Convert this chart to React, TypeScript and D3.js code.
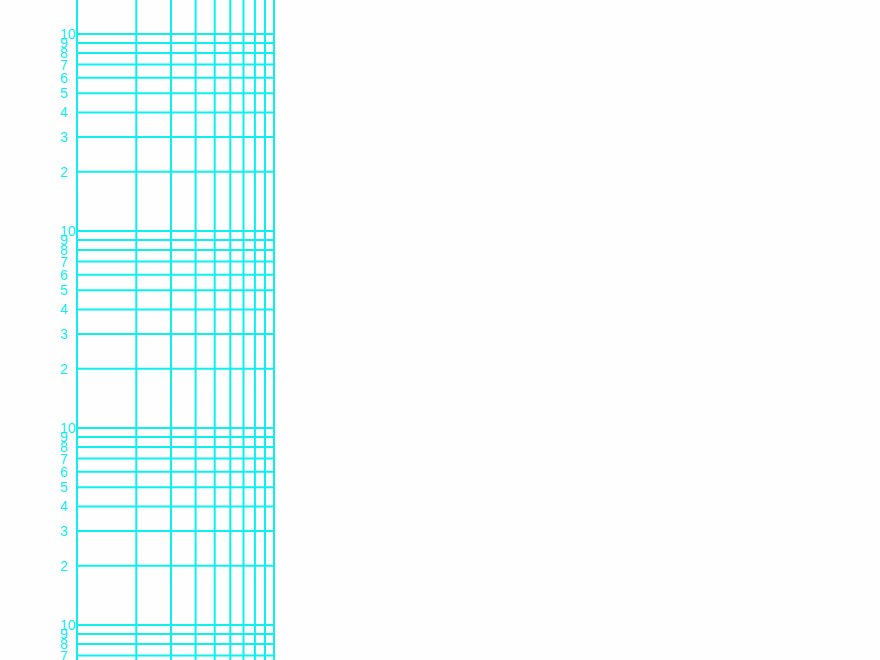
import React from "react";
import * as d3 from "d3";

const decades: number[] = [1, 10, 100, 1000];
const minorSteps: number[] = [1, 2, 3, 4, 5, 6, 7, 8, 9, 10];
const labelSteps: number[] = [2, 3, 4, 5, 6, 7, 8, 9, 10];
const xSteps: number[] = [1, 2, 3, 4, 5, 6, 7, 8, 9, 10];

const W = 880;
const H = 660;
const COLOR = "#0ef0f0";

export default function App() {
  const x = d3.scaleLog().domain([1, 10]).range([77, 274]);
  const y = d3.scaleLog().domain([1, 10000]).range([822, 34]);

  const hValues: number[] = [];
  decades.forEach((d) => minorSteps.forEach((s) => hValues.push(s * d)));
  const hUnique = Array.from(new Set(hValues));

  const labels: { v: number; t: string }[] = [];
  decades.forEach((d) => labelSteps.forEach((s) => labels.push({ v: s * d, t: String(s) })));

  return (
    <svg
      width={W}
      height={H}
      style={{ position: "absolute", left: 0, top: 0, background: "#fefefe" }}
    >
      <rect x={0} y={0} width={W} height={H} fill="#fefefe" />
      <g stroke={COLOR} strokeWidth={2} fill="none">
        {xSteps.map((v) => (
          <line key={"v" + v} x1={x(v)} x2={x(v)} y1={0} y2={H} />
        ))}
        {hUnique.map((v) => (
          <line key={"h" + v} x1={x(1)} x2={x(10)} y1={y(v)} y2={y(v)} />
        ))}
      </g>
      <g fill={COLOR} fontFamily="Liberation Sans, Arial, sans-serif" fontSize={14}>
        {labels.map((l, i) => (
          <text key={i} x={60} y={y(l.v)} dominantBaseline="central">
            {l.t}
          </text>
        ))}
      </g>
    </svg>
  );
}
